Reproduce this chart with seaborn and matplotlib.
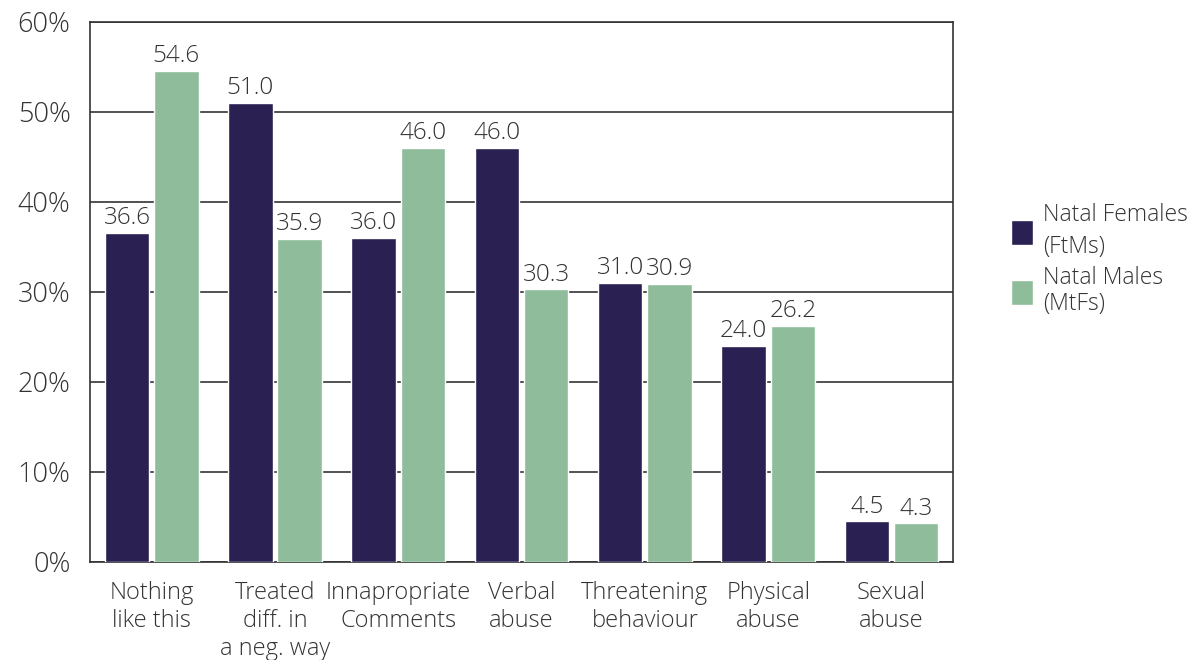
import matplotlib
matplotlib.use("Agg")
import matplotlib.pyplot as plt
import pandas as pd
import seaborn as sns

categories = [
    "Nothing\nlike this",
    "Treated\ndiff. in\na neg. way",
    "Innapropriate\nComments",
    "Verbal\nabuse",
    "Threatening\nbehaviour",
    "Physical\nabuse",
    "Sexual\nabuse",
]
natal_females = [36.6, 51.0, 36.0, 46.0, 31.0, 24.0, 4.5]
natal_males = [54.6, 35.9, 46.0, 30.3, 30.9, 26.2, 4.3]
series_names = ["Natal Females\n(FtMs)", "Natal Males\n(MtFs)"]
y_ticks = [0, 10, 20, 30, 40, 50, 60]

df = pd.DataFrame({
    "category": categories * 2,
    "value": natal_females + natal_males,
    "group": [series_names[0]] * len(categories) + [series_names[1]] * len(categories),
})

sns.set_theme(style="white")
plt.rcParams["font.family"] = ["Open Sans", "DejaVu Sans"]
plt.rcParams["font.weight"] = "light"

fig = plt.figure(figsize=(12.02, 6.6), dpi=100)
ax = fig.add_axes([0.0749, 0.1485, 0.7181, 0.8182])

sns.barplot(data=df, x="category", y="value", hue="group",
            palette=["#2a2052", "#8fbc9a"], width=0.8, gap=0.1,
            saturation=1, ax=ax, zorder=3)

for cont in ax.containers:
    ax.bar_label(cont, fmt="%.1f", fontsize=17.5, color="#333333", padding=2)

ax.set_ylim(0, 60)
ax.set_yticks(y_ticks)
ax.set_yticklabels([f"{t}%" for t in y_ticks], fontsize=19.5, color="#333333")
ax.tick_params(axis="x", labelsize=17, labelcolor="#333333", length=0, pad=14)
ax.tick_params(axis="y", length=0, pad=14)
ax.set_xlabel("")
ax.set_ylabel("")
ax.yaxis.grid(True, color="#333333", linewidth=1.2, zorder=0)
ax.set_axisbelow(True)
for s in ax.spines.values():
    s.set_color("#333333")
    s.set_linewidth(1.2)

leg = ax.legend(loc="center left", bbox_to_anchor=(1.067, 0.56), frameon=False,
                fontsize=16.5, handlelength=0.95, handleheight=1.3, handletextpad=0.45,
                labelspacing=0.3, labelcolor="#333333", borderaxespad=0, borderpad=0)
leg.get_texts()[0].set_linespacing(1.45)
leg.get_texts()[1].set_linespacing(1.15)

fig.savefig("out.png", dpi=100)
